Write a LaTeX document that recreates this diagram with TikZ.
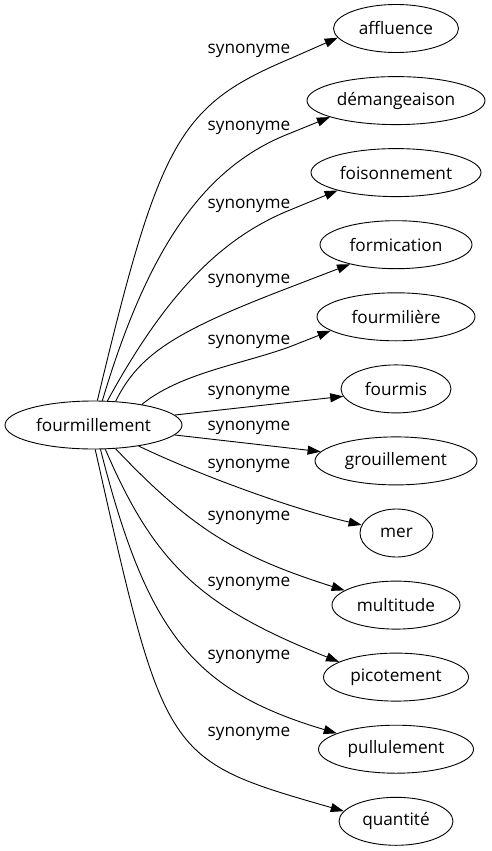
\documentclass[tikz,border=0pt]{standalone}
\usepackage{fontspec}
\setmainfont{Open Sans}
\usetikzlibrary{shapes.geometric,arrows.meta}
\begin{document}
\begin{tikzpicture}[x=1pt,y=-1pt,
  every node/.style={font=\fontsize{17.2}{20}\selectfont, text=black},
  nd/.style={ellipse,draw,line width=0.9pt,inner sep=0pt,minimum height=48pt},
  lbl/.style={inner sep=0pt},
  syn/.style={draw,line width=0.9pt,-{Triangle[length=13pt,width=9pt]}}]
\useasboundingbox (0,0) rectangle (491,851);
\node[nd,minimum width=177pt] (src) at (93.5,425) {fourmillement};
\node[nd,minimum width=125pt] (n1) at (396,28.5) {affluence};
\node[nd,minimum width=178pt] (n2) at (396,100.6) {démangeaison};
\node[nd,minimum width=170pt] (n3) at (396,172.6) {foisonnement};
\node[nd,minimum width=152pt] (n4) at (396,244.7) {formication};
\node[nd,minimum width=158pt] (n5) at (396,316.8) {fourmilière};
\node[nd,minimum width=110pt] (n6) at (396,388.9) {fourmis};
\node[nd,minimum width=162pt] (n7) at (396,460.9) {grouillement};
\node[nd,minimum width=73pt] (n8) at (396.5,533) {mer};
\node[nd,minimum width=128pt] (n9) at (396,605.1) {multitude};
\node[nd,minimum width=145pt] (n10) at (396,677.1) {picotement};
\node[nd,minimum width=155pt] (n11) at (396,749.2) {pullulement};
\node[nd,minimum width=114pt] (n12) at (396,821.3) {quantité};
\node[lbl] (l1) at (249,50.7) {synonyme};
\node[lbl] (l2) at (249,127.7) {synonyme};
\node[lbl] (l3) at (249,206) {synonyme};
\node[lbl] (l4) at (249,281) {synonyme};
\node[lbl] (l5) at (249,341.7) {synonyme};
\node[lbl] (l6) at (249,392.7) {synonyme};
\node[lbl] (l7) at (249,428.3) {synonyme};
\node[lbl] (l8) at (249,465.7) {synonyme};
\node[lbl] (l9) at (249,518.3) {synonyme};
\node[lbl] (l10) at (249,584.3) {synonyme};
\node[lbl] (l11) at (249,657.3) {synonyme};
\node[lbl] (l12) at (249,734.3) {synonyme};
\draw[syn] (src.81.7) .. controls (159.7,139.6) and (179.1,105.4) .. (291,58.3) -- (n1.189.7);
\draw[syn] (src.70.4) .. controls (148.3,246.7) and (204.7,166.3) .. (290,133.3) -- (n2.194.2);
\draw[syn] (src.60.3) .. controls (164.9,295.7) and (219.8,238.4) .. (290,210) -- (n3.197.4);
\draw[syn] (src.47.3) .. controls (139,354.5) and (174,331.6) .. (290,287.3) -- (n4.203.1);
\draw[syn] (src.23.7) .. controls (180,373) and (243,364) .. (290,346.7) -- (n5.192.2);
\draw[syn] (src.7) -- (n6.188);
\draw[syn] (src.-7) -- (n7.173.4);
\draw[syn] (src.-25.7) .. controls (200.7,475.7) and (293.5,509.3) .. (n8.167);
\draw[syn] (src.-47.3) .. controls (190.8,528) and (236.3,556.2) .. (n9.164);
\draw[syn] (src.-64.2) .. controls (154.8,564.6) and (201.2,607) .. (n10.165.4);
\draw[syn] (src.-74.8) .. controls (147.4,634.2) and (194.1,690.8) .. (n11.165.8);
\draw[syn] (src.-86.4) .. controls (164.9,759.8) and (164.9,759.8) .. (n12.169.7);
\end{tikzpicture}
\end{document}
